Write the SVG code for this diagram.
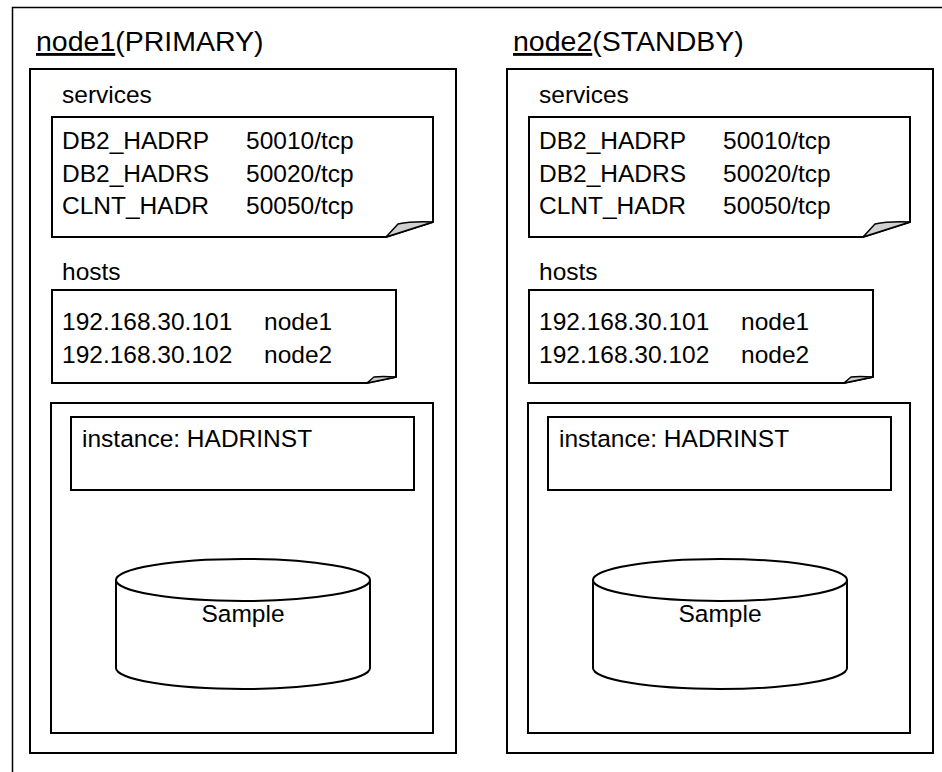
<svg xmlns="http://www.w3.org/2000/svg" width="942" height="772" viewBox="0 0 942 772">
<style>
text{font-family:"Liberation Sans",Arial,sans-serif;fill:#000}
.box{fill:#fff;stroke:#000;stroke-width:2}
.curl{fill:#d0d0d0;stroke:#000;stroke-width:1.5;stroke-linejoin:round}
.t20{font-size:24.5px}
.t22{font-size:28.5px}
</style>
<rect width="942" height="772" fill="#fff"/>
<path d="M12.5,772 V7.5 H942" fill="none" stroke="#000" stroke-width="1.5"/>

<g id="node1">
<rect class="box" x="30" y="69" width="426" height="684"/>
<text class="t22" x="36" y="51"><tspan text-decoration="underline">node1</tspan>(PRIMARY)</text>
<text class="t20" x="62" y="103">services</text>
<path class="box" d="M52,117 H433 V222 L386,237 H52 Z"/>
<path class="curl" d="M386,237 L398,224 Q412,221 433,222 Z"/>
<text class="t20" x="62" y="149">DB2_HADRP</text><text class="t20" x="246" y="149">50010/tcp</text>
<text class="t20" x="62" y="182">DB2_HADRS</text><text class="t20" x="246" y="182">50020/tcp</text>
<text class="t20" x="62" y="214">CLNT_HADR</text><text class="t20" x="246" y="214">50050/tcp</text>
<text class="t20" x="62" y="280">hosts</text>
<path class="box" d="M52,290 H396 V377 L367,383 H52 Z"/>
<path class="curl" d="M367,383 L374,377 Q382,376 396,377 Z"/>
<text class="t20" x="62" y="330">192.168.30.101</text><text class="t20" x="264" y="330">node1</text>
<text class="t20" x="62" y="363">192.168.30.102</text><text class="t20" x="264" y="363">node2</text>
<rect class="box" x="51" y="403" width="382" height="330"/>
<rect class="box" x="71" y="417" width="343" height="73"/>
<text class="t20" x="82" y="447">instance: HADRINST</text>
<path class="box" d="M116,580 A127,21 0 0 1 370,580 V668 A127,21 0 0 1 116,668 Z"/>
<path d="M116,580 A127,21 0 0 0 370,580" fill="none" stroke="#000" stroke-width="2"/>
<text class="t20" x="243" y="622" text-anchor="middle">Sample</text>
</g>

<g id="node2" transform="translate(477,0)">
<rect class="box" x="30" y="69" width="426" height="684"/>
<text class="t22" x="36" y="51"><tspan text-decoration="underline">node2</tspan>(STANDBY)</text>
<text class="t20" x="62" y="103">services</text>
<path class="box" d="M52,117 H433 V222 L386,237 H52 Z"/>
<path class="curl" d="M386,237 L398,224 Q412,221 433,222 Z"/>
<text class="t20" x="62" y="149">DB2_HADRP</text><text class="t20" x="246" y="149">50010/tcp</text>
<text class="t20" x="62" y="182">DB2_HADRS</text><text class="t20" x="246" y="182">50020/tcp</text>
<text class="t20" x="62" y="214">CLNT_HADR</text><text class="t20" x="246" y="214">50050/tcp</text>
<text class="t20" x="62" y="280">hosts</text>
<path class="box" d="M52,290 H396 V377 L367,383 H52 Z"/>
<path class="curl" d="M367,383 L374,377 Q382,376 396,377 Z"/>
<text class="t20" x="62" y="330">192.168.30.101</text><text class="t20" x="264" y="330">node1</text>
<text class="t20" x="62" y="363">192.168.30.102</text><text class="t20" x="264" y="363">node2</text>
<rect class="box" x="51" y="403" width="382" height="330"/>
<rect class="box" x="71" y="417" width="343" height="73"/>
<text class="t20" x="82" y="447">instance: HADRINST</text>
<path class="box" d="M116,580 A127,21 0 0 1 370,580 V668 A127,21 0 0 1 116,668 Z"/>
<path d="M116,580 A127,21 0 0 0 370,580" fill="none" stroke="#000" stroke-width="2"/>
<text class="t20" x="243" y="622" text-anchor="middle">Sample</text>
</g>

<g id="connectors"></g>
</svg>
